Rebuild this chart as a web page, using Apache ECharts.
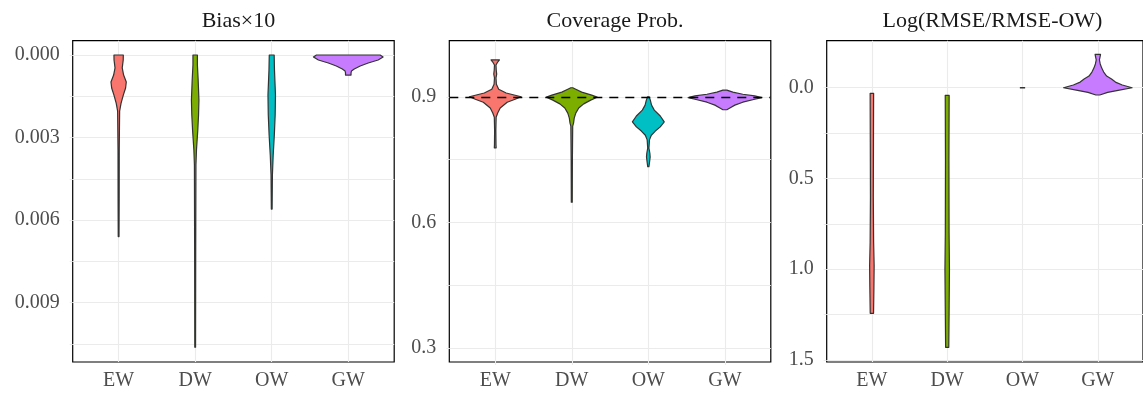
<!DOCTYPE html>
<html>
<head>
<meta charset="utf-8">
<script src="https://cdn.jsdelivr.net/npm/echarts@6/dist/echarts.min.js"></script>
<style>
html, body { margin: 0; padding: 0; background: #fff; }
#chart { width: 1143px; height: 394px; }
</style>
</head>
<body>
<div id="chart"></div>
<script>
var categories = ["EW", "DW", "OW", "GW"];
var colors = ["#F8766D", "#7CAE00", "#00BFC4", "#C77CFF"];
var panelTitles = ["Bias\u00d710", "Coverage Prob.", "Log(RMSE/RMSE-OW)"];

// violin outlines: [value, half width in category units]
var biasEW = [[0, 0.061], [0.00018, 0.060], [0.00047, 0.047], [0.00073, 0.065], [0.00098, 0.100], [0.0012, 0.091],
    [0.00145, 0.062], [0.00175, 0.032], [0.00204, 0.013], [0.00345, 0.008], [0.00527, 0.007], [0.0066, 0.005]];
var biasDW = [[0, 0.029], [0.00036, 0.029], [0.00091, 0.039], [0.00164, 0.049], [0.00218, 0.044], [0.00273, 0.034],
    [0.00345, 0.017], [0.004, 0.010], [0.00709, 0.007], [0.01062, 0.005]];
var biasOW = [[0, 0.032], [0.00055, 0.036], [0.00145, 0.049], [0.00218, 0.045], [0.00291, 0.034], [0.00364, 0.019],
    [0.00436, 0.009], [0.0056, 0.005]];
var biasGW = [[0, 0.416], [0.00007, 0.455], [0.00018, 0.39], [0.00029, 0.26], [0.0004, 0.156], [0.00051, 0.078],
    [0.00058, 0.042], [0.00065, 0.036], [0.00073, 0.036]];

var covEW = [[0.988, 0.055], [0.983, 0.032], [0.976, 0.010], [0.964, 0.013], [0.954, 0.019], [0.945, 0.010],
    [0.930, 0.015], [0.918, 0.045], [0.909, 0.143], [0.9, 0.338], [0.894, 0.26], [0.887, 0.156], [0.873, 0.065],
    [0.861, 0.032], [0.851, 0.012], [0.820, 0.008], [0.785, 0.010], [0.778, 0.012]];
var covDW = [[0.9215, 0.013], [0.918, 0.052], [0.911, 0.13], [0.904, 0.26], [0.899, 0.331], [0.892, 0.247],
    [0.883, 0.156], [0.873, 0.091], [0.861, 0.052], [0.849, 0.032], [0.837, 0.023], [0.830, 0.012],
    [0.749, 0.008], [0.648, 0.006]];
var covOW = [[0.9, 0.010], [0.892, 0.026], [0.880, 0.042], [0.868, 0.078], [0.854, 0.156], [0.840, 0.208],
    [0.828, 0.156], [0.818, 0.091], [0.808, 0.039], [0.797, 0.015], [0.777, 0.008], [0.765, 0.020],
    [0.756, 0.024], [0.744, 0.016], [0.733, 0.008]];
var covGW = [[0.916, 0.026], [0.911, 0.104], [0.906, 0.234], [0.902, 0.39], [0.898, 0.48], [0.894, 0.39],
    [0.887, 0.234], [0.880, 0.13], [0.873, 0.065], [0.869, 0.026]];
var covTarget = 0.9;

var rmseEW = [[0.031, 0.023], [0.3, 0.021], [0.6, 0.019], [0.85, 0.023], [0.98, 0.03], [1.1, 0.027], [1.243, 0.022]];
var rmseDW = [[0.042, 0.026], [0.4, 0.023], [0.8, 0.025], [1.0, 0.03], [1.2, 0.026], [1.43, 0.021]];
var rmseOW = [[-0.001, 0.028], [0, 0.028], [0.001, 0.028]];
var rmseGW = [[-0.184, 0.036], [-0.169, 0.029], [-0.153, 0.021], [-0.131, 0.032], [-0.108, 0.052], [-0.086, 0.078],
    [-0.064, 0.117], [-0.048, 0.182], [-0.031, 0.234], [-0.015, 0.325], [0, 0.455], [0.013, 0.286],
    [0.026, 0.13], [0.040, 0.026]];

var biasLabels = [0, 0.003, 0.006, 0.009];
var biasGrid = [0, 0.0015, 0.003, 0.0045, 0.006, 0.0075, 0.009, 0.0105];
var covLabels = [0.3, 0.6, 0.9];
var covGrid = [0.3, 0.45, 0.6, 0.75, 0.9];
var rmseLabels = [0, 0.5, 1.0, 1.5];
var rmseGrid = [0, 0.25, 0.5, 0.75, 1.0, 1.25, 1.5];

var panels = [
    { profiles: [biasEW, biasDW, biasOW, biasGW], min: -0.00052, max: 0.01116, inverse: true,
      labels: biasLabels, grid: biasGrid, digits: 3 },
    { profiles: [covEW, covDW, covOW, covGW], min: 0.266, max: 1.034, inverse: false,
      labels: covLabels, grid: covGrid, digits: 1 },
    { profiles: [rmseEW, rmseDW, rmseOW, rmseGW], min: -0.259, max: 1.511, inverse: true,
      labels: rmseLabels, grid: rmseGrid, digits: 1 }
];
var gridLeft = [72.7, 449.3, 826.7];
var panelW = 321.5, panelH = 321.3, panelTop = 40.7;
var fontFam = "'Liberation Serif', 'DejaVu Serif', serif";

function makeRender(profiles) {
    return function(params, api) {
        var i = params.dataIndex;
        var c = api.value(0);
        var prof = profiles[i];
        var pts = [];
        for (var k = 0; k < prof.length; k++) pts.push(api.coord([c + prof[k][1], prof[k][0]]));
        for (var k = prof.length - 1; k >= 0; k--) pts.push(api.coord([c - prof[k][1], prof[k][0]]));
        return {
            type: 'polygon',
            shape: { points: pts },
            style: { fill: colors[i], stroke: '#333333', lineWidth: 1.2, lineJoin: 'round' }
        };
    };
}

var grids = [], xAxes = [], yAxes = [], series = [], titles = [];
panels.forEach(function(p, n) {
    grids.push({
        left: gridLeft[n], top: panelTop, width: panelW, height: panelH,
        show: true, borderColor: '#000', borderWidth: 1.2, backgroundColor: '#fff'
    });
    titles.push({
        text: panelTitles[n],
        left: gridLeft[n] + panelW / 2,
        top: 5,
        textAlign: 'center',
        textStyle: { fontFamily: fontFam, fontSize: 22, fontWeight: 'normal', color: '#1a1a1a' }
    });
    xAxes.push({
        type: 'value', gridIndex: n, min: 0.4, max: 4.6,
        axisLine: { show: false },
        axisTick: { show: true, customValues: [1, 2, 3, 4], length: 3, lineStyle: { color: '#ebebeb' } },
        axisLabel: {
            customValues: [1, 2, 3, 4], margin: 9, color: '#4d4d4d',
            fontFamily: fontFam, fontSize: 20,
            formatter: function(v) { return categories[Math.round(v) - 1]; }
        },
        splitLine: { show: true, lineStyle: { color: '#ebebeb', width: 1.1 } }
    });
    yAxes.push({
        type: 'value', gridIndex: n, min: p.min, max: p.max, inverse: p.inverse,
        axisLine: { show: false },
        axisTick: { show: true, customValues: p.grid, length: 3, lineStyle: { color: '#ebebeb' } },
        axisLabel: {
            customValues: p.labels, margin: 13, color: '#4d4d4d',
            fontFamily: fontFam, fontSize: 20,
            formatter: (function(d) { return function(v) { return v.toFixed(d); }; })(p.digits)
        },
        splitLine: { show: true, lineStyle: { color: '#ebebeb', width: 1.1 } }
    });
    series.push({
        type: 'custom', xAxisIndex: n, yAxisIndex: n,
        renderItem: makeRender(p.profiles),
        data: [[1], [2], [3], [4]],
        encode: { x: 0 },
        z: 3
    });
});

series.push({
    type: 'line', xAxisIndex: 1, yAxisIndex: 1, data: [], z: 10,
    markLine: {
        silent: true, symbol: ['none', 'none'], label: { show: false },
        lineStyle: { color: '#000', type: [9, 7], width: 1.4 },
        data: [{ yAxis: covTarget }]
    }
});

var chart = echarts.init(document.getElementById('chart'));
chart.setOption({
    animation: false,
    backgroundColor: '#fff',
    title: titles,
    grid: grids,
    xAxis: xAxes,
    yAxis: yAxes,
    series: series
});
</script>
</body>
</html>
